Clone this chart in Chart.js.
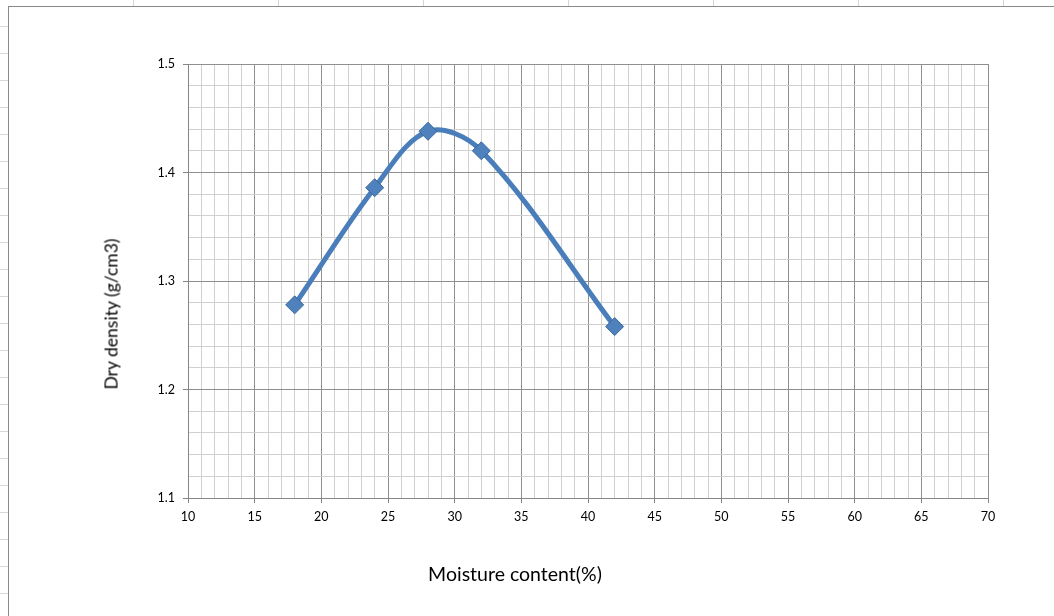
<!DOCTYPE html>
<html>
<head>
<meta charset="utf-8">
<script src="https://cdn.jsdelivr.net/npm/chart.js@4"></script>
<style>
  body { margin: 0; background: #fff; }
  #wrap { position: relative; width: 1054px; height: 616px; overflow: hidden; font-family: Lato, "Open Sans", sans-serif; }
  #sheetTop { position: absolute; left: 0; top: 0; width: 1054px; height: 7px;
    background: repeating-linear-gradient(90deg, transparent 0 133px, #d4d4d4 133px 134px, transparent 134px 145px); }
  #sheetLeft { position: absolute; left: 0; top: 0; width: 8px; height: 616px;
    background: repeating-linear-gradient(180deg, transparent 0 26px, #d8d8d8 26px 27px); }
  #frame { position: absolute; left: 8px; top: 6px; right: -2px; bottom: -2px; background: #fff;
    border-left: 1px solid #8a8a8a; border-top: 1px solid #8a8a8a; }
  canvas { position: absolute; left: 0; top: 0; }
  .atitle { position: absolute; color: #000; white-space: nowrap; }
  #xTitle { left: 515px; top: 573px; transform: translate(-50%, -50%); font-size: 19.5px; }
  #yTitle { left: 111px; top: 314px; transform: translate(-50%, -50%) rotate(-90deg); font-size: 17.5px; }
</style>
</head>
<body>
<div id="wrap">
  <div id="sheetTop"></div>
  <div id="sheetLeft"></div>
  <div id="frame"></div>
  <canvas id="myChart" width="1054" height="616"></canvas>
  <div class="atitle" id="xTitle">Moisture content(%)</div>
  <div class="atitle" id="yTitle">Dry density (g/cm3)</div>
</div>
<script>
// moisture content (%) and dry density (g/cm3)
const moisture = [18, 24, 28, 32, 42];
const dryDensity = [1.278, 1.386, 1.438, 1.42, 1.258];
const xRange = [10, 70];
const yRange = [1.1, 1.5];

const majorGrid = '#8f8f8f';
const minorGrid = '#d0d0d0';

function isMajorX(v) { return Math.abs(v % 5) < 1e-6; }
function isMajorY(v) { return Math.abs(Math.round(v * 10) - v * 10) < 1e-6; }

const ctx = document.getElementById('myChart').getContext('2d');
new Chart(ctx, {
  type: 'line',
  data: {
    datasets: [{
      data: moisture.map((m, i) => ({ x: m, y: dryDensity[i] })),
      borderColor: '#4a7ebb',
      borderWidth: 5,
      tension: 0.35,
      fill: false,
      pointStyle: 'rectRot',
      pointRadius: 9,
      pointBackgroundColor: '#4f81bd',
      pointBorderColor: '#3b679c',
      pointBorderWidth: 1
    }]
  },
  options: {
    responsive: false,
    animation: false,
    devicePixelRatio: 1,
    layout: { padding: { left: 0, right: 66, top: 64, bottom: 0 } },
    plugins: { legend: { display: false }, tooltip: { enabled: false } },
    scales: {
      x: {
        type: 'linear',
        min: xRange[0], max: xRange[1],
        afterFit: (s) => { s.height = 118; },
        border: { color: '#868686', width: 1 },
        grid: {
          color: (c) => isMajorX(c.tick.value) ? majorGrid : minorGrid,
          tickColor: (c) => isMajorX(c.tick.value) ? '#868686' : 'rgba(0,0,0,0)',
          tickLength: 5
        },
        ticks: {
          stepSize: 1, maxTicksLimit: 100, autoSkip: false, maxRotation: 0,
          padding: 6, color: '#000',
          font: { family: 'Lato', size: 12.5 },
          callback: (v) => isMajorX(v) ? String(v) : ''
        }
      },
      y: {
        type: 'linear',
        min: yRange[0], max: yRange[1],
        afterFit: (s) => { s.width = 188; },
        border: { color: '#868686', width: 1 },
        grid: {
          color: (c) => isMajorY(c.tick.value) ? majorGrid : minorGrid,
          tickColor: (c) => isMajorY(c.tick.value) ? '#868686' : 'rgba(0,0,0,0)',
          tickLength: 5
        },
        ticks: {
          stepSize: 0.02, maxTicksLimit: 100, autoSkip: false,
          padding: 8, color: '#000',
          font: { family: 'Lato', size: 12.5 },
          callback: (v) => isMajorY(v) ? v.toFixed(1) : ''
        }
      }
    }
  }
});
</script>
</body>
</html>
